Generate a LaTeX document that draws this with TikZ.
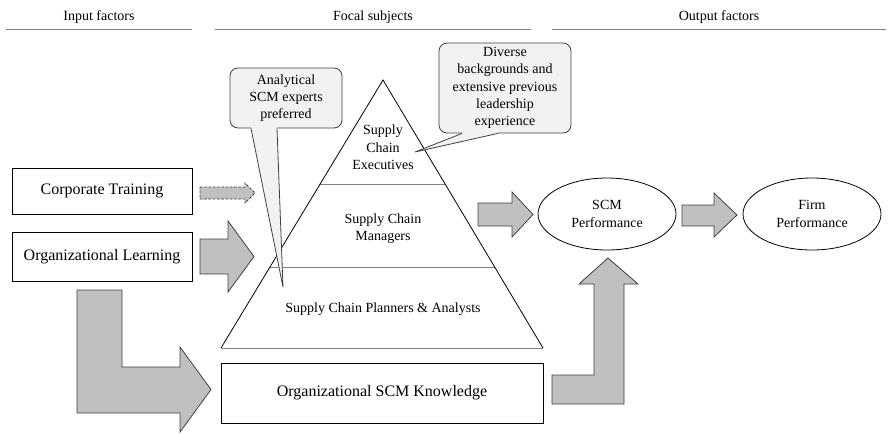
\documentclass[tikz,border=0pt]{standalone}
\usepackage{fontspec}
\setmainfont{Liberation Serif}
\usetikzlibrary{shapes.geometric,calc}
\definecolor{arrowgray}{HTML}{C0C0C0}
\definecolor{edgegray}{HTML}{404040}
\definecolor{calloutfill}{HTML}{F2F2F2}
\definecolor{rulegray}{HTML}{808080}
\tikzset{
  headtext/.style={font=\fontsize{10.5}{13}\selectfont},
  headrule/.style={draw=rulegray, line width=0.7pt},
  factorbox/.style={draw, rectangle, inner sep=0pt, line width=0.6pt, minimum width=135pt, font=\fontsize{12}{14}\selectfont},
  perfoval/.style={draw, ellipse, inner sep=0pt, line width=0.6pt, minimum width=103.5pt, minimum height=54pt, align=center, font=\fontsize{10.5}{13}\selectfont},
  tiertext/.style={align=center, font=\fontsize{10.5}{13}\selectfont},
  tierrule/.style={draw=rulegray, line width=0.6pt},
  calloutbox/.style={draw=edgegray, fill=calloutfill, rounded corners=6pt, line width=0.6pt, inner sep=0pt, align=center, font=\fontsize{10.5}{13}\selectfont},
  calloutline/.style={draw=edgegray, line width=0.6pt},
  blockarrow/.style={fill=arrowgray, draw=edgegray, line width=0.6pt, line join=miter}
}
\begin{document}
\begin{tikzpicture}[x=0.75pt, y=-0.75pt]
\useasboundingbox (0,0) rectangle (888,433);
\node[headtext] (inhead) at (99,17) {Input factors};
\node[headtext] (focalhead) at (373,17) {Focal subjects};
\node[headtext] (outhead) at (719,17) {Output factors};
\draw[headrule] (6,29) -- (192,29);
\draw[headrule] (215,29) -- (531,29);
\draw[headrule] (552,29) -- (886,29);

\node[factorbox, minimum height=34.5pt] (training) at (102,191) {Corporate Training};
\node[factorbox, minimum height=36.75pt] (learning) at (102,256.5) {Organizational Learning};
\node[factorbox, minimum width=241.5pt, minimum height=45pt] (knowledge) at (382,393) {Organizational SCM Knowledge};

\coordinate (apex) at (383,80);
\coordinate (baseL) at (221,348);
\coordinate (baseR) at (543,348);
\draw[tierrule] ($(apex)!0.388!(baseL)$) -- ($(apex)!0.388!(baseR)$);
\draw[tierrule] ($(apex)!0.701!(baseL)$) -- ($(apex)!0.701!(baseR)$);
\draw[tierrule] (baseL) -- (baseR);
\draw[line width=0.6pt] (baseL) -- (apex) -- (baseR);
\node[tiertext] (executives) at (383,147.5) {Supply\\Chain\\Executives};
\node[tiertext] (managers) at (383,228.5) {Supply Chain\\Managers};
\node[tiertext] (planners) at (383,309) {Supply Chain Planners \& Analysts};

\node[perfoval] (scmperf) at (607,214) {SCM\\Performance};
\node[perfoval] (firmperf) at (812,214) {Firm\\Performance};

\draw[blockarrow, dash pattern=on 2pt off 1.2pt] (200,187) -- (245,187) -- (245,183) -- (255,193) -- (245,203) -- (245,199) -- (200,199) -- cycle;
\draw[blockarrow] (200,239) -- (228,239) -- (228,221) -- (254,256.5) -- (228,292) -- (228,274) -- (200,274) -- cycle;
\draw[blockarrow] (478,203) -- (512,203) -- (512,192) -- (533,214.5) -- (512,237) -- (512,226) -- (478,226) -- cycle;
\draw[blockarrow] (682,205) -- (714,205) -- (714,193) -- (737,215) -- (714,237) -- (714,226) -- (682,226) -- cycle;
\draw[blockarrow] (77,290) -- (122,290) -- (122,367) -- (180,367) -- (180,347) -- (211,389.5) -- (180,432) -- (180,413) -- (77,413) -- cycle;
\draw[blockarrow] (552,375) -- (594,375) -- (594,284) -- (579,284) -- (608,258) -- (638,284) -- (624,284) -- (624,404) -- (552,404) -- cycle;

\node[calloutbox, minimum width=84pt, minimum height=45pt] (analytical) at (286,98) {Analytical\\SCM experts\\preferred};
\coordinate (analyticaltip) at (283,287);
\fill[calloutfill] ($(analytical.south)+(-35,-2)$) -- ($(analytical.south)+(-35,0)$) -- (analyticaltip) -- ($(analytical.south)+(-9,0)$) -- ($(analytical.south)+(-9,-2)$) -- cycle;
\draw[calloutline] ($(analytical.south)+(-35,0)$) -- (analyticaltip) -- ($(analytical.south)+(-9,0)$);

\node[calloutbox, minimum width=99pt, minimum height=67.5pt] (diverse) at (505,88) {Diverse\\backgrounds and\\extensive previous\\leadership\\experience};
\coordinate (diversetip) at (415,152);
\fill[calloutfill] ($(diverse.south)+(-43,-2)$) -- ($(diverse.south)+(-43,0)$) -- (diversetip) -- ($(diverse.south)+(-7,0)$) -- ($(diverse.south)+(-7,-2)$) -- cycle;
\draw[calloutline] ($(diverse.south)+(-43,0)$) -- (diversetip) -- ($(diverse.south)+(-7,0)$);
\end{tikzpicture}
\end{document}
